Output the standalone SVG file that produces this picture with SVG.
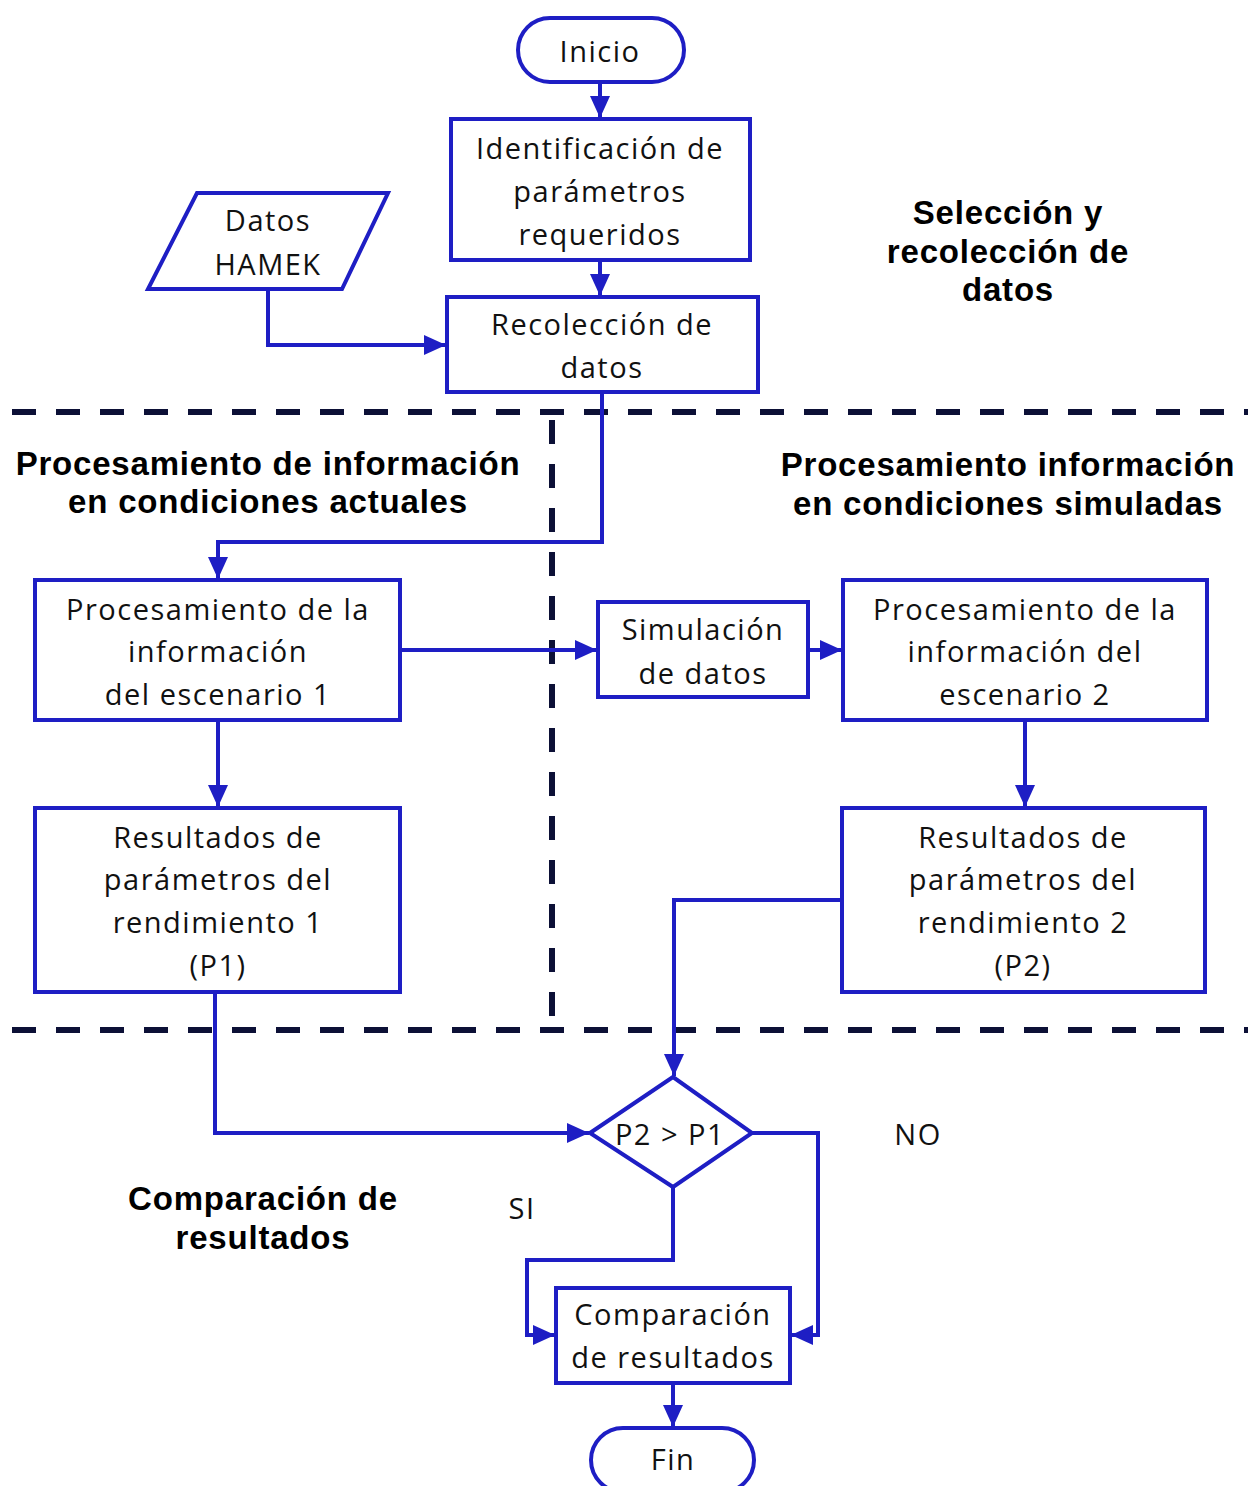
<svg xmlns="http://www.w3.org/2000/svg" width="1248" height="1486" viewBox="0 0 1248 1486">
  <style>
    .shape { fill: #ffffff; stroke: #1e1ec4; stroke-width: 4; }
    .wire { fill: none; stroke: #1e1ec4; stroke-width: 4; }
    .zone { fill: none; stroke: #0c1036; stroke-width: 6; stroke-dasharray: 24 20; }
    .lbl { font-family: "Open Sans", Lato, sans-serif; font-size: 29px; letter-spacing: 1.5px; fill: #111111; text-anchor: middle; dominant-baseline: central; }
    .hdr { font-family: "Liberation Sans", Arial, sans-serif; font-size: 33px; letter-spacing: 0.8px; font-weight: bold; fill: #000000; text-anchor: middle; dominant-baseline: central; }
  </style>
  <defs>
    <marker id="arrow" markerUnits="userSpaceOnUse" markerWidth="22" markerHeight="20" viewBox="0 0 22 20" refX="22" refY="10" orient="auto">
      <path d="M0,0 L22,10 L0,20 z" fill="#1e1ec4"/>
    </marker>
  </defs>

  <rect width="1248" height="1486" fill="#ffffff"/>

  <!-- stage boundaries -->
  <g id="zones">
    <line class="zone" x1="12" y1="412" x2="1248" y2="412"/>
    <line class="zone" x1="552" y1="420" x2="552" y2="1022"/>
    <line class="zone" x1="12" y1="1030" x2="1248" y2="1030"/>
  </g>

  <!-- stage titles -->
  <g id="titles">
    <text class="hdr" x="1008" y="212">Selección y</text>
    <text class="hdr" x="1008" y="251">recolección de</text>
    <text class="hdr" x="1008" y="289">datos</text>
    <text class="hdr" x="268" y="463">Procesamiento de información</text>
    <text class="hdr" x="268" y="501">en condiciones actuales</text>
    <text class="hdr" x="1008" y="464">Procesamiento información</text>
    <text class="hdr" x="1008" y="503">en condiciones simuladas</text>
    <text class="hdr" x="263" y="1198">Comparación de</text>
    <text class="hdr" x="263" y="1237">resultados</text>
  </g>

  <!-- connectors -->
  <g id="connectors">
    <path class="wire" d="M600,82 V118" marker-end="url(#arrow)"/>
    <path class="wire" d="M600,260 V296" marker-end="url(#arrow)"/>
    <path class="wire" d="M268,289 V345 H446" marker-end="url(#arrow)"/>
    <path class="wire" d="M602,392 V542 H218 V579" marker-end="url(#arrow)"/>
    <path class="wire" d="M400,650 H597" marker-end="url(#arrow)"/>
    <path class="wire" d="M808,650 H842" marker-end="url(#arrow)"/>
    <path class="wire" d="M218,720 V807" marker-end="url(#arrow)"/>
    <path class="wire" d="M1025,720 V807" marker-end="url(#arrow)"/>
    <path class="wire" d="M842,900 H674 V1076" marker-end="url(#arrow)"/>
    <path class="wire" d="M215,992 V1133 H589" marker-end="url(#arrow)"/>
    <path class="wire" d="M752,1133 H818 V1335 H791" marker-end="url(#arrow)"/>
    <path class="wire" d="M673,1187 V1260 H527 V1335 H555" marker-end="url(#arrow)"/>
    <path class="wire" d="M673,1383 V1427" marker-end="url(#arrow)"/>
    <text class="lbl" x="918" y="1133">NO</text>
    <text class="lbl" x="522" y="1207">SI</text>
  </g>

  <g id="inicio">
    <rect class="shape" x="518" y="18" width="166" height="64" rx="32"/>
    <text class="lbl" x="600" y="50">Inicio</text>
  </g>

  <g id="identificacion">
    <rect class="shape" x="451" y="119" width="299" height="141"/>
    <text class="lbl" x="600" y="147">Identificación de</text>
    <text class="lbl" x="600" y="190">parámetros</text>
    <text class="lbl" x="600" y="233">requeridos</text>
  </g>

  <g id="datos-hamek">
    <polygon class="shape" points="197,193 388,193 342,289 148,289"/>
    <text class="lbl" x="268" y="219">Datos</text>
    <text class="lbl" x="268" y="263">HAMEK</text>
  </g>

  <g id="recoleccion">
    <rect class="shape" x="447" y="297" width="311" height="95"/>
    <text class="lbl" x="602" y="323">Recolección de</text>
    <text class="lbl" x="602" y="366">datos</text>
  </g>

  <g id="procesamiento-1">
    <rect class="shape" x="35" y="580" width="365" height="140"/>
    <text class="lbl" x="218" y="608">Procesamiento de la</text>
    <text class="lbl" x="218" y="650">información</text>
    <text class="lbl" x="218" y="693">del escenario 1</text>
  </g>

  <g id="simulacion">
    <rect class="shape" x="598" y="602" width="210" height="95"/>
    <text class="lbl" x="703" y="628">Simulación</text>
    <text class="lbl" x="703" y="672">de datos</text>
  </g>

  <g id="procesamiento-2">
    <rect class="shape" x="843" y="580" width="364" height="140"/>
    <text class="lbl" x="1025" y="608">Procesamiento de la</text>
    <text class="lbl" x="1025" y="650">información del</text>
    <text class="lbl" x="1025" y="693">escenario 2</text>
  </g>

  <g id="resultados-1">
    <rect class="shape" x="35" y="808" width="365" height="184"/>
    <text class="lbl" x="218" y="836">Resultados de</text>
    <text class="lbl" x="218" y="878">parámetros del</text>
    <text class="lbl" x="218" y="921">rendimiento 1</text>
    <text class="lbl" x="218" y="964">(P1)</text>
  </g>

  <g id="resultados-2">
    <rect class="shape" x="842" y="808" width="363" height="184"/>
    <text class="lbl" x="1023" y="836">Resultados de</text>
    <text class="lbl" x="1023" y="878">parámetros del</text>
    <text class="lbl" x="1023" y="921">rendimiento 2</text>
    <text class="lbl" x="1023" y="964">(P2)</text>
  </g>

  <g id="decision">
    <polygon class="shape" points="590,1133 673,1077 752,1133 673,1187"/>
    <text class="lbl" x="670" y="1133">P2 &gt; P1</text>
  </g>

  <g id="comparacion">
    <rect class="shape" x="556" y="1288" width="234" height="95"/>
    <text class="lbl" x="673" y="1313">Comparación</text>
    <text class="lbl" x="673" y="1356">de resultados</text>
  </g>

  <g id="fin">
    <rect class="shape" x="591" y="1428" width="163" height="64" rx="32"/>
    <text class="lbl" x="673" y="1458">Fin</text>
  </g>
</svg>
